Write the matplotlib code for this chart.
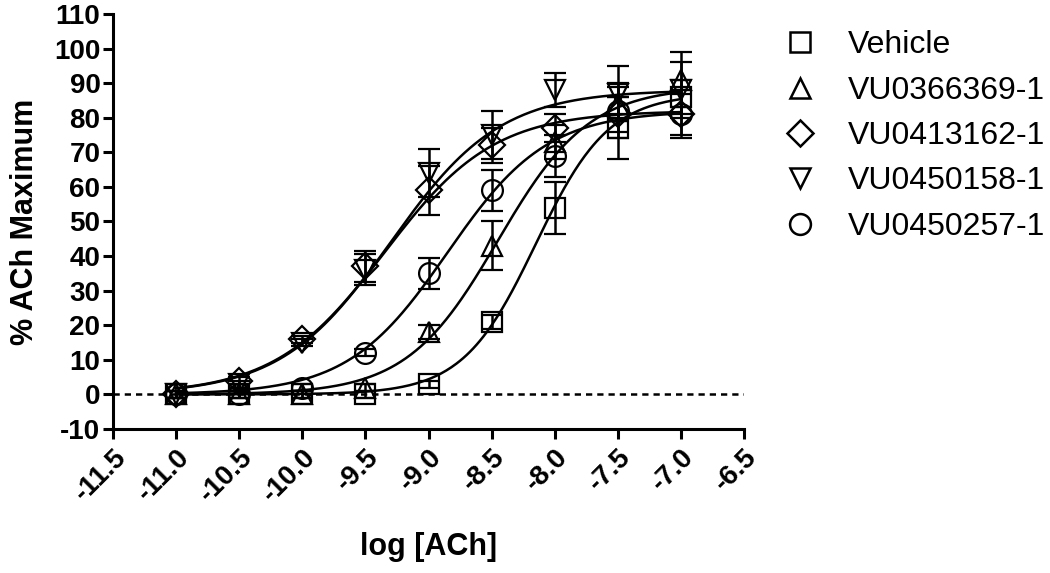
import numpy as np
import matplotlib as mpl
mpl.use('Agg')
import matplotlib.pyplot as plt
from matplotlib.lines import Line2D

log_ach = [-11.0, -10.5, -10.0, -9.5, -9.0, -8.5, -8.0, -7.5, -7.0]

names = ["Vehicle", "VU0366369-1", "VU0413162-1", "VU0450158-1", "VU0450257-1"]
markers = ["s", "^", "D", "v", "o"]

vehicle = [0, 0, 0, 0, 3, 21, 54, 77, 86]
vehicle_err = [1, 1, 1, 1, 1, 2, 7.5, 9, 5]
vu0366369 = [0, 0, 0, 2, 18, 43, 73, 84, 91]
vu0366369_err = [1, 1, 1, 1, 2, 7, 5, 5, 8]
vu0413162 = [0, 4, 16, 37, 59, 72, 77, 81, 81]
vu0413162_err = [1, 1, 1, 4.5, 7, 5, 4, 5, 6]
vu0450158 = [0, 3, 15, 36, 64, 75, 88, 87, 88]
vu0450158_err = [1, 1, 1, 4.5, 7, 7, 5, 8, 8]
vu0450257 = [0, 0, 2, 12, 35, 59, 69, 82, 81]
vu0450257_err = [1, 1, 1, 1, 4.5, 6, 6, 8, 7]

# fitted sigmoid parameters (bottom, top, logEC50, hill)
fit_bottom = [0, 0, 0, 0, 0]
fit_top = [87, 89, 82, 88, 82]
fit_logec50 = [-8.15, -8.45, -9.35, -9.30, -8.85]
fit_hill = [1.5, 1.2, 1.0, 1.0, 1.1]

means = [vehicle, vu0366369, vu0413162, vu0450158, vu0450257]
errs = [vehicle_err, vu0366369_err, vu0413162_err, vu0450158_err, vu0450257_err]

plt.rcParams['font.family'] = ['Liberation Sans', 'DejaVu Sans']
plt.rcParams['axes.unicode_minus'] = False

fig = plt.figure(figsize=(10.5, 5.73), dpi=100)
ax = fig.add_axes([0.1076, 0.2513, 0.6010, 0.7243])

xs = np.linspace(-11, -7, 300)
for i in range(len(names)):
    b, t, ec, h = fit_bottom[i], fit_top[i], fit_logec50[i], fit_hill[i]
    ax.plot(xs, b + (t - b) / (1 + 10 ** ((ec - xs) * h)), color='black', lw=1.8, zorder=3)
    ax.errorbar(log_ach, means[i], yerr=errs[i], fmt=markers[i], mfc='none', mec='black',
                ms=13 if markers[i] == 'D' else 15, mew=1.6, ecolor='black', elinewidth=1.8,
                capsize=8, capthick=1.8, zorder=4)

ax.axhline(0, color='black', lw=1.8, ls=(0, (2.5, 2)), zorder=2)

ax.set_xlim(-11.5, -6.5)
ax.set_ylim(-10, 110)
ax.set_xticks(np.arange(-11.5, -6.4, 0.5))
ax.set_yticks(np.arange(-10, 111, 10))
ax.set_xticklabels(["%.1f" % v for v in np.arange(-11.5, -6.4, 0.5)], rotation=45,
                   ha='right', va='top', rotation_mode='anchor')
for s in ['top', 'right']:
    ax.spines[s].set_visible(False)
for s in ['left', 'bottom']:
    ax.spines[s].set_linewidth(2.2)
ax.tick_params(direction='out', length=7, width=2.2, labelsize=20, pad=2)
ax.tick_params(axis='x', pad=4)
for lab in ax.get_xticklabels() + ax.get_yticklabels():
    lab.set_fontweight('bold')

ax.set_xlabel("log [ACh]", fontsize=22, fontweight='bold', labelpad=18)
ax.set_ylabel("% ACh Maximum", fontsize=22, fontweight='bold', labelpad=10)

handles = [Line2D([], [], ls='none', marker=m, mfc='none', mec='black', mew=1.8,
                  ms=13 if m == 'D' else 15) for m in markers]
fig.legend(handles, names, loc='upper left', bbox_to_anchor=(0.7467, 0.947), frameon=False,
           fontsize=23, handlelength=1.0, handletextpad=1.0, borderpad=0, borderaxespad=0,
           labelspacing=0.48)

fig.savefig("out.png", dpi=100)
